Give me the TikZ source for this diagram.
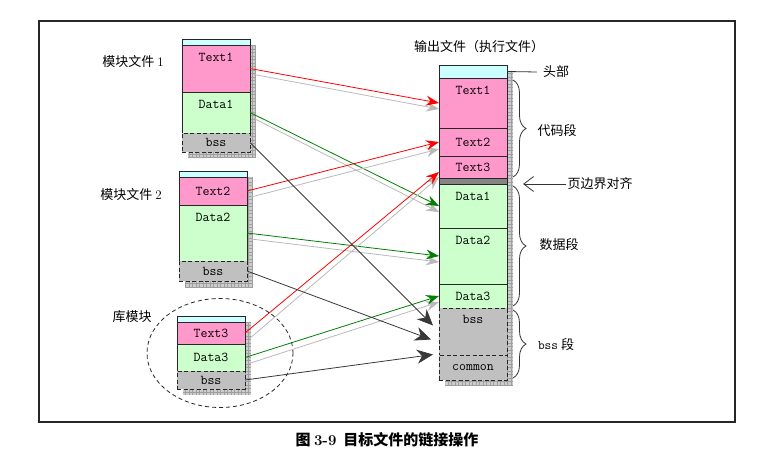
\documentclass[tikz,border=0pt]{standalone}
\usepackage{fontspec}
\newfontfamily\cjk{Noto Sans CJK SC}
\usetikzlibrary{positioning,arrows.meta,shapes.geometric,decorations.pathreplacing,backgrounds}
\definecolor{headcyan}{HTML}{CCFFFF}
\definecolor{textpink}{HTML}{FF99CC}
\definecolor{datagreen}{HTML}{CCFFCC}
\definecolor{bssgray}{HTML}{C0C0C0}
\definecolor{padgray}{HTML}{858585}
\definecolor{linkgreen}{HTML}{008000}
\newcommand{\segfont}{\fontsize{13.5}{15}\selectfont\ttfamily}
\newcommand{\lblfont}{\fontsize{13}{15}\selectfont\cjk}
\begin{document}
\begin{tikzpicture}[x=1pt, y=-1pt,
    seg/.style={draw=black!85, line width=0.9pt, minimum width=68pt, inner sep=0pt, outer sep=0pt, font=\segfont},
    segtop/.style={seg, label={[anchor=north, inner sep=3pt, yshift=-4.5pt, font=\segfont]north:#1}},
    headseg/.style={seg, fill=headcyan, minimum height=#1},
    bssseg/.style={seg, fill=bssgray, dash pattern=on 4pt off 2.5pt},
    lbl/.style={font=\lblfont, inner sep=1pt},
    tolink/.style={line width=0.8pt, -{Stealth[length=13pt,width=10pt,inset=4.5pt]}},
    ghost/.style={tolink, gray!55},
    bsslink/.style={draw=black!78, line width=0.8pt, -{Stealth[length=16pt,width=14pt,inset=5pt]}},
    segbrace/.style={decorate, decoration={brace, amplitude=13pt}, line width=0.8pt, black!80}]
    \useasboundingbox (0,0) rectangle (774,463);
    \draw[line width=1.3pt, black!85] (39,21) rectangle (735,422);

    \node[headseg=6pt, anchor=north west] (m1h) at (182,39) {};
    \node[segtop=Text1, fill=textpink, minimum height=47pt, below=0pt of m1h] (m1t) {};
    \node[segtop=Data1, fill=datagreen, minimum height=41pt, below=0pt of m1t] (m1d) {};
    \node[bssseg, minimum height=19pt, below=0pt of m1d] (m1b) {bss};
    \node[lbl] (lm1) at (133,62) {模块文件 {\rmfamily 1}};

    \node[headseg=6pt, anchor=north west] (m2h) at (179,171) {};
    \node[seg, fill=textpink, minimum height=28pt, below=0pt of m2h] (m2t) {Text2};
    \node[segtop=Data2, fill=datagreen, minimum height=56pt, below=0pt of m2t] (m2d) {};
    \node[bssseg, minimum height=20pt, below=0pt of m2d] (m2b) {bss};
    \node[lbl] (lm2) at (131,195) {模块文件 {\rmfamily 2}};

    \node[headseg=6pt, anchor=north west] (m3h) at (177,316) {};
    \node[seg, fill=textpink, minimum height=22pt, below=0pt of m3h] (m3t) {Text3};
    \node[seg, fill=datagreen, minimum height=27pt, below=0pt of m3t] (m3d) {Data3};
    \node[bssseg, minimum height=18pt, below=0pt of m3d] (m3b) {bss};
    \node[lbl] (llib) at (132,317) {库模块};
    \node[draw=black!85, dash pattern=on 4pt off 3pt, line width=0.8pt, ellipse, minimum width=146pt, minimum height=109pt] (libring) at (220,353) {};

    \node[headseg=13pt, anchor=north west] (oh) at (439,65) {};
    \node[segtop=Text1, fill=textpink, minimum height=50pt, below=0pt of oh] (ot1) {};
    \node[seg, fill=textpink, minimum height=28pt, below=0pt of ot1] (ot2) {Text2};
    \node[seg, fill=textpink, minimum height=22pt, below=0pt of ot2] (ot3) {Text3};
    \node[seg, fill=padgray, minimum height=6pt, below=0pt of ot3] (opad) {};
    \node[segtop=Data1, fill=datagreen, minimum height=44pt, below=0pt of opad] (od1) {};
    \node[segtop=Data2, fill=datagreen, minimum height=56pt, below=0pt of od1] (od2) {};
    \node[seg, fill=datagreen, minimum height=24pt, below=0pt of od2] (od3) {Data3};
    \node[bssseg, label={[anchor=north, inner sep=3pt, yshift=-4.5pt, font=\segfont]north:bss}, minimum height=47pt, below=0pt of od3] (obss) {};
    \node[bssseg, minimum height=25pt, below=0pt of obss] (ocom) {common};
    \node[lbl] (lout) at (479,47) {输出文件（执行文件）};

    \begin{scope}[on background layer]
        \foreach \a/\b in {m1h/m1b, m2h/m2b, m3h/m3b, oh/ocom} {
            \fill[gray!40] ([shift={(6pt,-6pt)}]\a.north west) rectangle ([shift={(6pt,-6pt)}]\b.south east);
            \draw[gray!75, line width=0.3pt, step=3.5pt] ([shift={(6pt,-6pt)}]\a.north west) grid ([shift={(6pt,-6pt)}]\b.south east);
        }
    \end{scope}

    \node[lbl] (lhead) at (556,72) {头部};
    \draw[line width=0.8pt, black!80] (oh.east) -- ([xshift=-5pt]lhead.west);
    \draw[segbrace] ([shift={(6pt,-2pt)}]ot1.north east) -- ([shift={(6pt,1pt)}]ot3.south east);
    \node[lbl] (lcode) at (557,131) {代码段};
    \draw[segbrace] ([shift={(6pt,-2pt)}]od1.north east) -- ([shift={(6pt,2pt)}]od3.south east);
    \node[lbl] (ldata) at (559,245) {数据段};
    \draw[segbrace] ([shift={(6pt,-2pt)}]obss.north east) -- ([shift={(6pt,2pt)}]ocom.south east);
    \node[lbl] (lbss) at (556,345) {{\ttfamily bss} 段};
    \node[lbl] (lpage) at (600,184) {页边界对齐};
    \draw[line width=0.8pt, black!80, -{Straight Barb[length=10pt,width=15pt]}] (lpage.west) -- ([xshift=16pt]od1.north east);

    \draw[ghost] ([shift={(4pt,-6pt)}]m1t.east) -- ([yshift=-6pt]ot1.west);
    \draw[tolink, red] (m1t.east) -- (ot1.west);
    \draw[ghost] ([shift={(4pt,-6pt)}]m1d.east) -- ([yshift=-6pt]od1.west);
    \draw[tolink, linkgreen] (m1d.east) -- (od1.west);
    \draw[ghost] ([shift={(4pt,-6pt)}]m2t.east) -- ([yshift=-7pt]ot2.west);
    \draw[tolink, red] (m2t.east) -- (ot2.west);
    \draw[ghost] ([shift={(4pt,-6pt)}]m2d.east) -- ([yshift=-6pt]od2.west);
    \draw[tolink, linkgreen] (m2d.east) -- (od2.west);
    \draw[ghost] ([shift={(4pt,-6pt)}]m3t.east) -- ([yshift=-10pt]ot3.west);
    \draw[tolink, red] (m3t.east) -- ([yshift=-5pt]ot3.west);
    \draw[ghost] ([shift={(4pt,-6pt)}]m3d.east) -- ([yshift=-6pt]od3.west);
    \draw[tolink, linkgreen] (m3d.east) -- (od3.west);
    \draw[bsslink] (m1b.east) -- ([shift={(-6pt,6pt)}]obss.west);
    \draw[bsslink] (m2b.east) -- ([shift={(-8pt,-8pt)}]obss.west);
    \draw[bsslink] (m3b.east) -- ([shift={(-6pt,-23pt)}]obss.west);

    \node[font=\fontsize{15}{17}\selectfont\cjk\bfseries] (cap) at (387,440) {图\ {\rmfamily 3-9}\ \ 目标文件的链接操作};
\end{tikzpicture}
\end{document}
